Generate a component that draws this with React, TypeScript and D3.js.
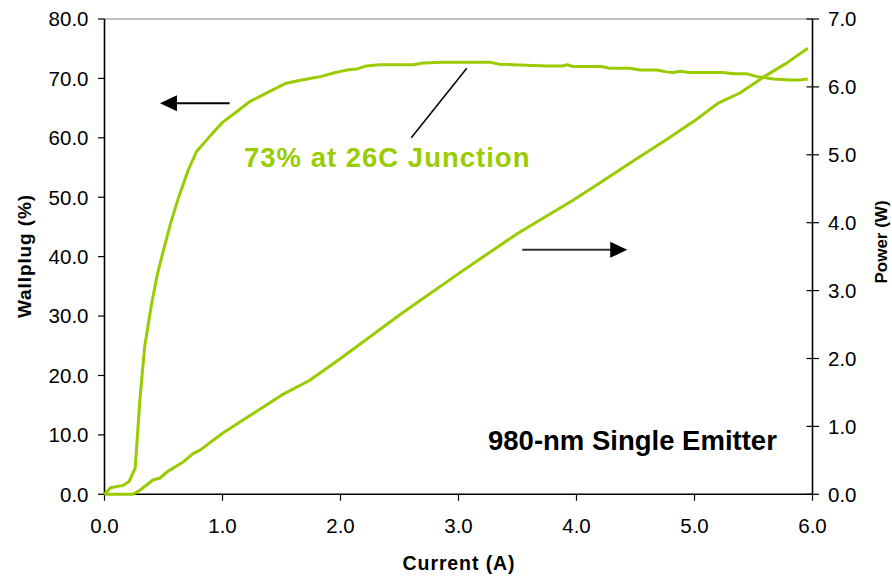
import React from "react";
import * as d3 from "d3";

// Drive current (A) and measured wall-plug efficiency (%)
const effCurrent = [
  0, 0.05, 0.16, 0.21, 0.26, 0.3, 0.34, 0.4, 0.45, 0.5, 0.56, 0.63, 0.71, 0.78, 0.89, 1.0, 1.12,
  1.23, 1.33, 1.43, 1.54, 1.66, 1.74, 1.83, 1.94, 2.05, 2.14, 2.22, 2.33, 2.62, 2.7, 2.87, 3.27,
  3.35, 3.46, 3.75, 3.88, 3.92, 3.97, 4.21, 4.28, 4.45, 4.54, 4.68, 4.76, 4.82, 4.88, 4.96, 5.24,
  5.33, 5.44, 5.53, 5.67, 5.81, 5.89, 5.96,
];
const effValues = [
  0, 1.1, 1.5, 2.2, 4.4, 15.9, 24.8, 32.2, 37.2, 41.1, 45.6, 50.1, 54.6, 57.7, 60.2, 62.6, 64.4,
  66.1, 67.1, 68.1, 69.2, 69.7, 70.0, 70.3, 70.9, 71.4, 71.6, 72.1, 72.3, 72.3, 72.6, 72.7, 72.7,
  72.4, 72.3, 72.1, 72.1, 72.3, 72.0, 72.0, 71.7, 71.7, 71.4, 71.4, 71.1, 71.0, 71.2, 71.0, 71.0,
  70.8, 70.8, 70.3, 69.9, 69.75, 69.75, 69.9,
];

// Drive current (A) and optical output power (W)
const powCurrent = [
  0, 0.1, 0.24, 0.3, 0.41, 0.47, 0.53, 0.67, 0.75, 0.81, 1.0, 1.26, 1.5, 1.74, 2.0, 2.5, 3.0,
  3.21, 3.5, 3.97, 4.2, 4.5, 4.76, 5.0, 5.2, 5.385, 5.58, 5.78, 5.96,
];
const powValues = [
  0, 0, 0, 0.06, 0.21, 0.24, 0.33, 0.48, 0.6, 0.65, 0.9, 1.19, 1.46, 1.68, 2.0, 2.64, 3.25,
  3.5, 3.84, 4.33, 4.59, 4.93, 5.22, 5.5, 5.76, 5.91, 6.14, 6.35, 6.57,
];

const xTicks = [0, 1, 2, 3, 4, 5, 6];
const leftTicks = [0, 10, 20, 30, 40, 50, 60, 70, 80];
const rightTicks = [0, 1, 2, 3, 4, 5, 6, 7];

const WIDTH = 892;
const HEIGHT = 577;
const plot = { left: 104.5, right: 812.5, top: 19, bottom: 494.3 };
const GREEN = "#99cc00";
const FONT = "'Liberation Sans', Arial, Helvetica, sans-serif";

export default function App() {
  const x = d3.scaleLinear().domain([0, 6]).range([plot.left, plot.right]);
  const yL = d3.scaleLinear().domain([0, 80]).range([plot.bottom, plot.top]);
  const yR = d3.scaleLinear().domain([0, 7]).range([plot.bottom, plot.top]);

  const effLine = d3
    .line<number>()
    .x((_, i) => x(effCurrent[i]))
    .y((d) => yL(d));
  const powLine = d3
    .line<number>()
    .x((_, i) => x(powCurrent[i]))
    .y((d) => yR(d));

  // Arrow helpers (positions expressed in data units)
  const leftArrow = { x0: 1.06, x1: 0.47, y: 65.8 };
  const rightArrow = { x0: 3.54, x1: 4.43, y: 3.6 };
  const head = 17;
  const half = 8;

  const la = { x0: x(leftArrow.x0), x1: x(leftArrow.x1), y: yL(leftArrow.y) };
  const ra = { x0: x(rightArrow.x0), x1: x(rightArrow.x1), y: yR(rightArrow.y) };

  return (
    <svg
      width={WIDTH}
      height={HEIGHT}
      style={{ position: "absolute", left: 0, top: 0, background: "#fff" }}
      fontFamily={FONT}
    >
      <rect width={WIDTH} height={HEIGHT} fill="#fff" />

      {/* frame */}
      <line x1={plot.left} x2={plot.right} y1={plot.top} y2={plot.top} stroke="#808080" strokeWidth={1.2} />
      <line x1={plot.left} x2={plot.left} y1={plot.top} y2={plot.bottom} stroke="#000" strokeWidth={1.6} />
      <line x1={plot.right} x2={plot.right} y1={plot.top} y2={plot.bottom} stroke="#000" strokeWidth={1.6} />
      <line x1={plot.left} x2={plot.right} y1={plot.bottom} y2={plot.bottom} stroke="#000" strokeWidth={1.6} />

      {/* bottom axis */}
      {xTicks.map((t) => (
        <g key={`x${t}`}>
          <line x1={x(t)} x2={x(t)} y1={plot.bottom} y2={plot.bottom + 6.5} stroke="#000" strokeWidth={1.2} />
          <text x={x(t)} y={533} textAnchor="middle" fontSize={20.5} fill="#000">
            {t.toFixed(1)}
          </text>
        </g>
      ))}

      {/* left axis */}
      {leftTicks.map((t) => (
        <g key={`l${t}`}>
          <line x1={plot.left - 6.5} x2={plot.left} y1={yL(t)} y2={yL(t)} stroke="#000" strokeWidth={1.2} />
          <text x={88.5} y={yL(t)} dy="0.36em" textAnchor="end" fontSize={20.5} fill="#000">
            {t.toFixed(1)}
          </text>
        </g>
      ))}

      {/* right axis */}
      {rightTicks.map((t) => (
        <g key={`r${t}`}>
          <line x1={plot.right - 6} x2={plot.right + 6.5} y1={yR(t)} y2={yR(t)} stroke="#000" strokeWidth={1.2} />
          <text x={828} y={yR(t)} dy="0.36em" textAnchor="start" fontSize={20.5} fill="#000">
            {t.toFixed(1)}
          </text>
        </g>
      ))}

      {/* axis titles */}
      <text x={459} y={570} textAnchor="middle" fontSize={19.5} fontWeight="bold" fill="#000" letterSpacing={0.9}>
        Current (A)
      </text>
      <text
        transform={`translate(31,256) rotate(-90)`}
        textAnchor="middle"
        fontSize={19}
        fontWeight="bold"
        fill="#000"
        letterSpacing={0.9}
      >
        Wallplug (%)
      </text>
      <text
        transform={`translate(887,242) rotate(-90)`}
        textAnchor="middle"
        fontSize={17}
        fontWeight="bold"
        fill="#000"
      >
        Power (W)
      </text>

      {/* data curves */}
      <path d={effLine(effValues) ?? ""} fill="none" stroke={GREEN} strokeWidth={3} strokeLinejoin="round" />
      <path d={powLine(powValues) ?? ""} fill="none" stroke={GREEN} strokeWidth={3} strokeLinejoin="round" />

      {/* direction arrows */}
      <line x1={la.x0} x2={la.x1 + head - 1} y1={la.y} y2={la.y} stroke="#000" strokeWidth={2} />
      <polygon
        points={`${la.x1},${la.y} ${la.x1 + head},${la.y - half} ${la.x1 + head},${la.y + half}`}
        fill="#000"
      />
      <line x1={ra.x0} x2={ra.x1 - head + 1} y1={ra.y} y2={ra.y} stroke="#333" strokeWidth={2} />
      <polygon
        points={`${ra.x1},${ra.y} ${ra.x1 - head},${ra.y - half} ${ra.x1 - head},${ra.y + half}`}
        fill="#000"
      />

      {/* peak callout */}
      <line x1={x(3.07)} y1={yL(71.7)} x2={x(2.6)} y2={yL(60.0)} stroke="#000" strokeWidth={1.5} />
      <text x={244} y={167} fontSize={27.5} fontWeight="bold" fill={GREEN} letterSpacing={1}>
        73% at 26C Junction
      </text>
      <text x={488} y={450} fontSize={27.5} fontWeight="bold" fill="#000">
        980-nm Single Emitter
      </text>
    </svg>
  );
}
